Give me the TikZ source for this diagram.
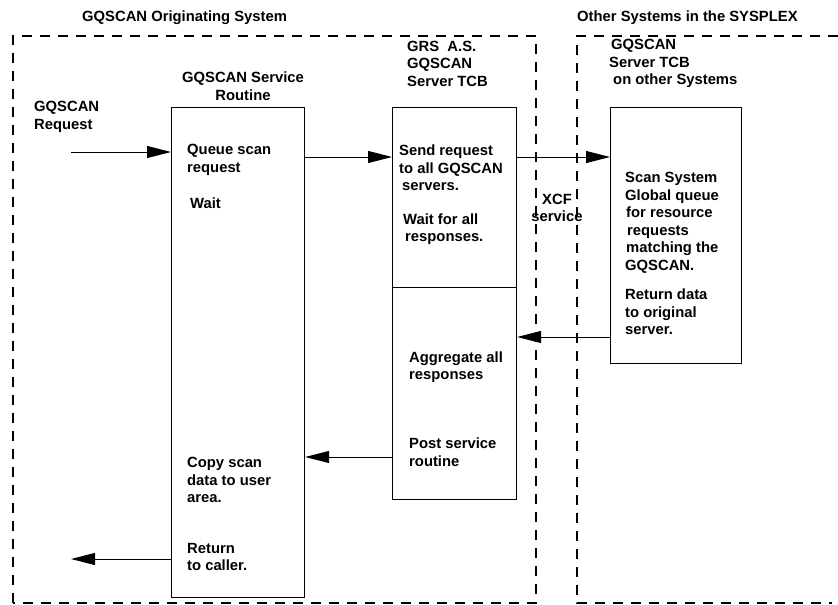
\documentclass[tikz,border=0pt]{standalone}
\usepackage{fontspec}
\setmainfont{Liberation Sans}
\usetikzlibrary{arrows.meta}
\begin{document}
\begin{tikzpicture}[x=1pt,y=-1pt,
  txt/.style={font=\bfseries\fontsize{14.8}{17.5}\selectfont, inner sep=0pt, align=left, anchor=west},
  ctxt/.style={font=\bfseries\fontsize{14.8}{17.5}\selectfont, inner sep=0pt, align=center},
  boxline/.style={draw, line width=1.2pt, inner sep=0pt, anchor=north west},
  sysbox/.style={draw, line width=1.2pt, dash pattern=on 10pt off 8pt},
  arr/.style={line width=1pt, -{Triangle[length=24pt,width=12pt]}}]
\useasboundingbox (0,0) rectangle (838,605);

% system boundaries
\draw[sysbox] (13,603) -- (13,36) -- (536,36) -- (536,603) -- cycle;
\draw[sysbox] (838,36) -- (577,36) -- (577,603) -- (832,603);

% titles
\node[txt] (t1) at (82,18) {GQSCAN Originating System};
\node[txt] (t2) at (577,18) {Other Systems in the SYSPLEX};

% boxes
\node[boxline, minimum width=133pt, minimum height=490pt] (svc) at (171,107) {};
\node[boxline, minimum width=124pt, minimum height=180pt] (grstop) at (392,107) {};
\node[boxline, minimum width=124pt, minimum height=212pt] (grsbot) at (392,287) {};
\node[boxline, minimum width=131pt, minimum height=256pt] (oth) at (610,107) {};

% headings
\node[txt] (req) at (34,117) {GQSCAN\\Request};
\node[ctxt] (svch) at (243,86) {GQSCAN Service\\Routine};
\node[txt] (grsh) at (407,63.5) {GRS\ \ A.S.\\GQSCAN\\Server TCB};
\node[txt] (othh) at (609,63.5) {\hspace{2pt}GQSCAN\\Server TCB\\\hspace{4pt}on other Systems};

% service routine texts
\node[txt] (q) at (187,160) {Queue scan\\request};
\node[txt] (w) at (190,203) {Wait};
\node[txt] (cp) at (187,480) {Copy scan\\data to user\\area.};
\node[txt] (rt) at (187,557) {Return\\to caller.};

% GRS texts
\node[txt] (sr) at (399,168) {Send request\\to all GQSCAN\\\hspace{3pt}servers.};
\node[txt] (wa) at (403,229) {Wait for all\\\hspace{2pt}responses.};
\node[txt] (ag) at (409,367) {Aggregate all\\responses};
\node[txt] (ps) at (409,452) {Post service\\routine};

% other system texts
\node[txt] (sc) at (625,223) {Scan System\\Global queue\\\hspace{1pt}for resource\\\hspace{2pt}requests\\\hspace{1pt}matching the\\GQSCAN.};
\node[txt] (rd) at (625,312) {Return data\\to original\\server.};

% XCF
\node[ctxt] (xcf) at (557,208) {XCF\\service};

% arrow levels
\coordinate (r0) at (71,152);
\coordinate (a1) at (0,157);
\coordinate (a2) at (0,337);
\coordinate (a3) at (0,457);
\coordinate (r1) at (71,559);

\draw[arr] (r0) -- (r0 -| svc.west);
\draw[arr] (svc.east |- a1) -- (grstop.west |- a1);
\draw[arr] (grstop.east |- a1) -- (oth.west |- a1);
\draw[arr] (oth.west |- a2) -- (grsbot.east |- a2);
\draw[arr] (grsbot.west |- a3) -- (svc.east |- a3);
\draw[arr] (svc.west |- r1) -- (r1);
\end{tikzpicture}
\end{document}
